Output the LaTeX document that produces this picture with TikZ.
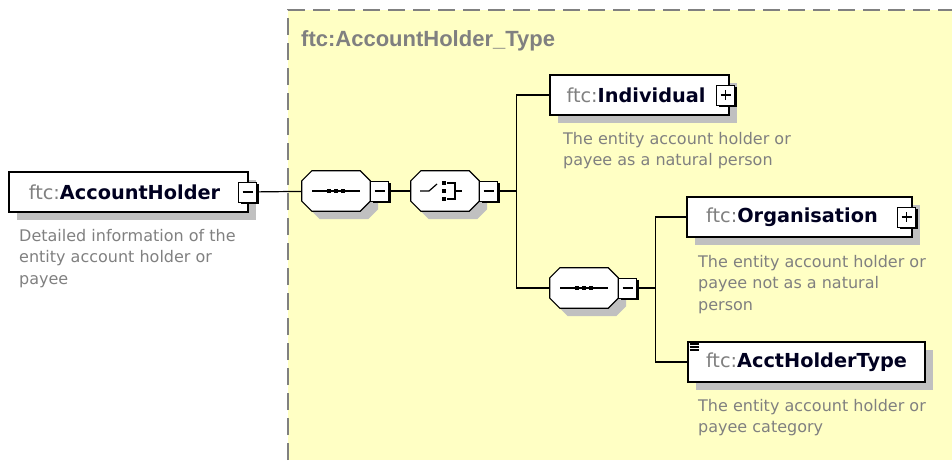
\documentclass[tikz,border=0pt]{standalone}
\usepackage{fontspec}
\setmainfont{DejaVu Sans}
\newfontfamily\titlefont{Liberation Sans}
\usetikzlibrary{
	calc,
	positioning,
	shadows
}
\definecolor{typeyellow}{RGB}{255,255,196}
\definecolor{shadowgray}{RGB}{192,192,192}
\definecolor{prefixgray}{RGB}{128,128,128}
\definecolor{namecolor}{RGB}{0,0,32}
\tikzset{
	elem/.style={draw, line width=1.2pt, fill=white, minimum height=40pt, inner sep=0pt,
		font=\fontsize{19.3}{23}\selectfont\bfseries, text=namecolor,
		drop shadow={shadow xshift=8pt, shadow yshift=-8pt, fill=shadowgray, opacity=1}},
	compositor/.style={minimum width=68pt, minimum height=40pt, inner sep=0pt},
	toggle/.style={draw, line width=1pt, fill=white, minimum width=18pt, minimum height=20pt, inner sep=0pt,
		drop shadow={shadow xshift=2pt, shadow yshift=-2pt, fill=black, opacity=1}},
	desc/.style={anchor=base west, align=left, inner sep=0pt, text=prefixgray, font=\fontsize{16}{21.5}\selectfont},
	link/.style={line width=1.2pt}
}
\newcommand{\pfx}{{\mdseries\color{prefixgray}ftc:}}
\newcommand{\octpath}[3]{\path[#3] ($(#1.north west)+(10+#2,#2)$) -- ($(#1.north east)+(-10+#2,#2)$)
	-- ($(#1.north east)+(#2,10+#2)$) -- ($(#1.south east)+(#2,-10+#2)$)
	-- ($(#1.south east)+(-10+#2,#2)$) -- ($(#1.south west)+(10+#2,#2)$)
	-- ($(#1.south west)+(#2,-10+#2)$) -- ($(#1.north west)+(#2,10+#2)$) -- cycle;}
\newcommand{\drawoct}[1]{\octpath{#1}{8}{fill=shadowgray}\octpath{#1}{0}{fill=white, draw, line width=1.2pt}}
\newcommand{\minussign}[1]{\draw[line width=1.2pt] ($(#1)+(-5,0)$) -- ($(#1)+(5,0)$);}
\newcommand{\plussign}[1]{\minussign{#1}\draw[line width=1.2pt] ($(#1)+(0,-5)$) -- ($(#1)+(0,5)$);}
\newcommand{\seqicon}[1]{\draw[line width=1.2pt] ($(#1)+(-24,0)$) -- ($(#1)+(24,0)$);
	\foreach \dx in {-7,0,7} \fill ($(#1)+(\dx-2.25,-2.25)$) rectangle ++(4.5,4.5);}
\begin{document}
\begin{tikzpicture}[x=1pt, y=-1pt]
	\useasboundingbox (0,0) rectangle (952,460);
	\fill[typeyellow] (288,10) rectangle (952,460);
	\draw[prefixgray, line width=2pt, dash pattern=on 17pt off 8pt] (288,460) -- (288,10) -- (952,10);
	\node[anchor=base west, inner sep=0pt, text=prefixgray, font=\titlefont\fontsize{22}{26}\selectfont\bfseries] (typetitle) at (301,46) {ftc:AccountHolder\_Type};

	\node[elem, minimum width=239pt] (holder) at (128.5,192) {\pfx AccountHolder\hspace*{8pt}};
	\node[toggle] (holdertog) at ($(holder.east)+(-1,0)$) {};
	\node[desc] (holderdesc) at (19,284) {Detailed information of the\\entity account holder or\\payee};

	\node[compositor] (seqA) at (336,191) {};
	\drawoct{seqA}
	\node[toggle, anchor=west] (seqAtog) at (seqA.east) {};
	\node[compositor] (choice) at (445,191) {};
	\drawoct{choice}
	\node[toggle, anchor=west] (choicetog) at (choice.east) {};

	\node[elem, minimum width=179pt] (indiv) at (639.5,95) {\pfx Individual\hspace*{7pt}};
	\node[toggle] (indivtog) at ($(indiv.east)+(-4,0)$) {};
	\node[desc] (indivdesc) at (563,165.5) {The entity account holder or\\payee as a natural person};

	\node[compositor] (seqB) at (584,288) {};
	\drawoct{seqB}
	\node[toggle, anchor=west] (seqBtog) at (seqB.east) {};

	\node[elem, minimum width=225pt] (org) at (799.5,217) {\pfx Organisation\hspace*{15pt}};
	\node[toggle] (orgtog) at ($(org.east)+(-6,0)$) {};
	\node[desc] (orgdesc) at (698,310) {The entity account holder or\\payee not as a natural\\person};

	\node[elem, minimum width=237pt, line width=2pt] (aht) at (806.5,362) {\pfx AcctHolderType};
	\node[desc] (ahtdesc) at (698,432.5) {The entity account holder or\\payee category};

	\draw[link] (holdertog) -- (seqA);
	\draw[link] (seqAtog) -- (choice);
	\draw[link] (choicetog.east) -- ++(18,0) coordinate (busA);
	\draw[link] (indiv.west) -| (busA) |- (seqB.west);
	\draw[link] (seqBtog.east) -- ++(18,0) coordinate (busB);
	\draw[link] (org.west) -| (busB) |- (aht.west);

	\minussign{holdertog}
	\minussign{seqAtog}
	\minussign{choicetog}
	\minussign{seqBtog}
	\plussign{indivtog}
	\plussign{orgtog}
	\seqicon{seqA}
	\seqicon{seqB}
	\draw[line width=1.2pt] ($(choice)+(-25,0)$) -- ++(9,0) -- ++(8,-7);
	\foreach \dy in {-8,0,8} \fill ($(choice)+(-3,\dy-2)$) rectangle ++(4,4);
	\draw[line width=1.2pt] ($(choice)+(2,-8)$) -- ++(8,0) -- ++(0,16) -- ++(-8,0)
		($(choice)+(10,0)$) -- ++(7,0);
	\foreach \dy in {3,6,9} \draw[line width=1.2pt] ($(aht.north west)+(2.5,\dy)$) -- ++(9,0);
\end{tikzpicture}
\end{document}
